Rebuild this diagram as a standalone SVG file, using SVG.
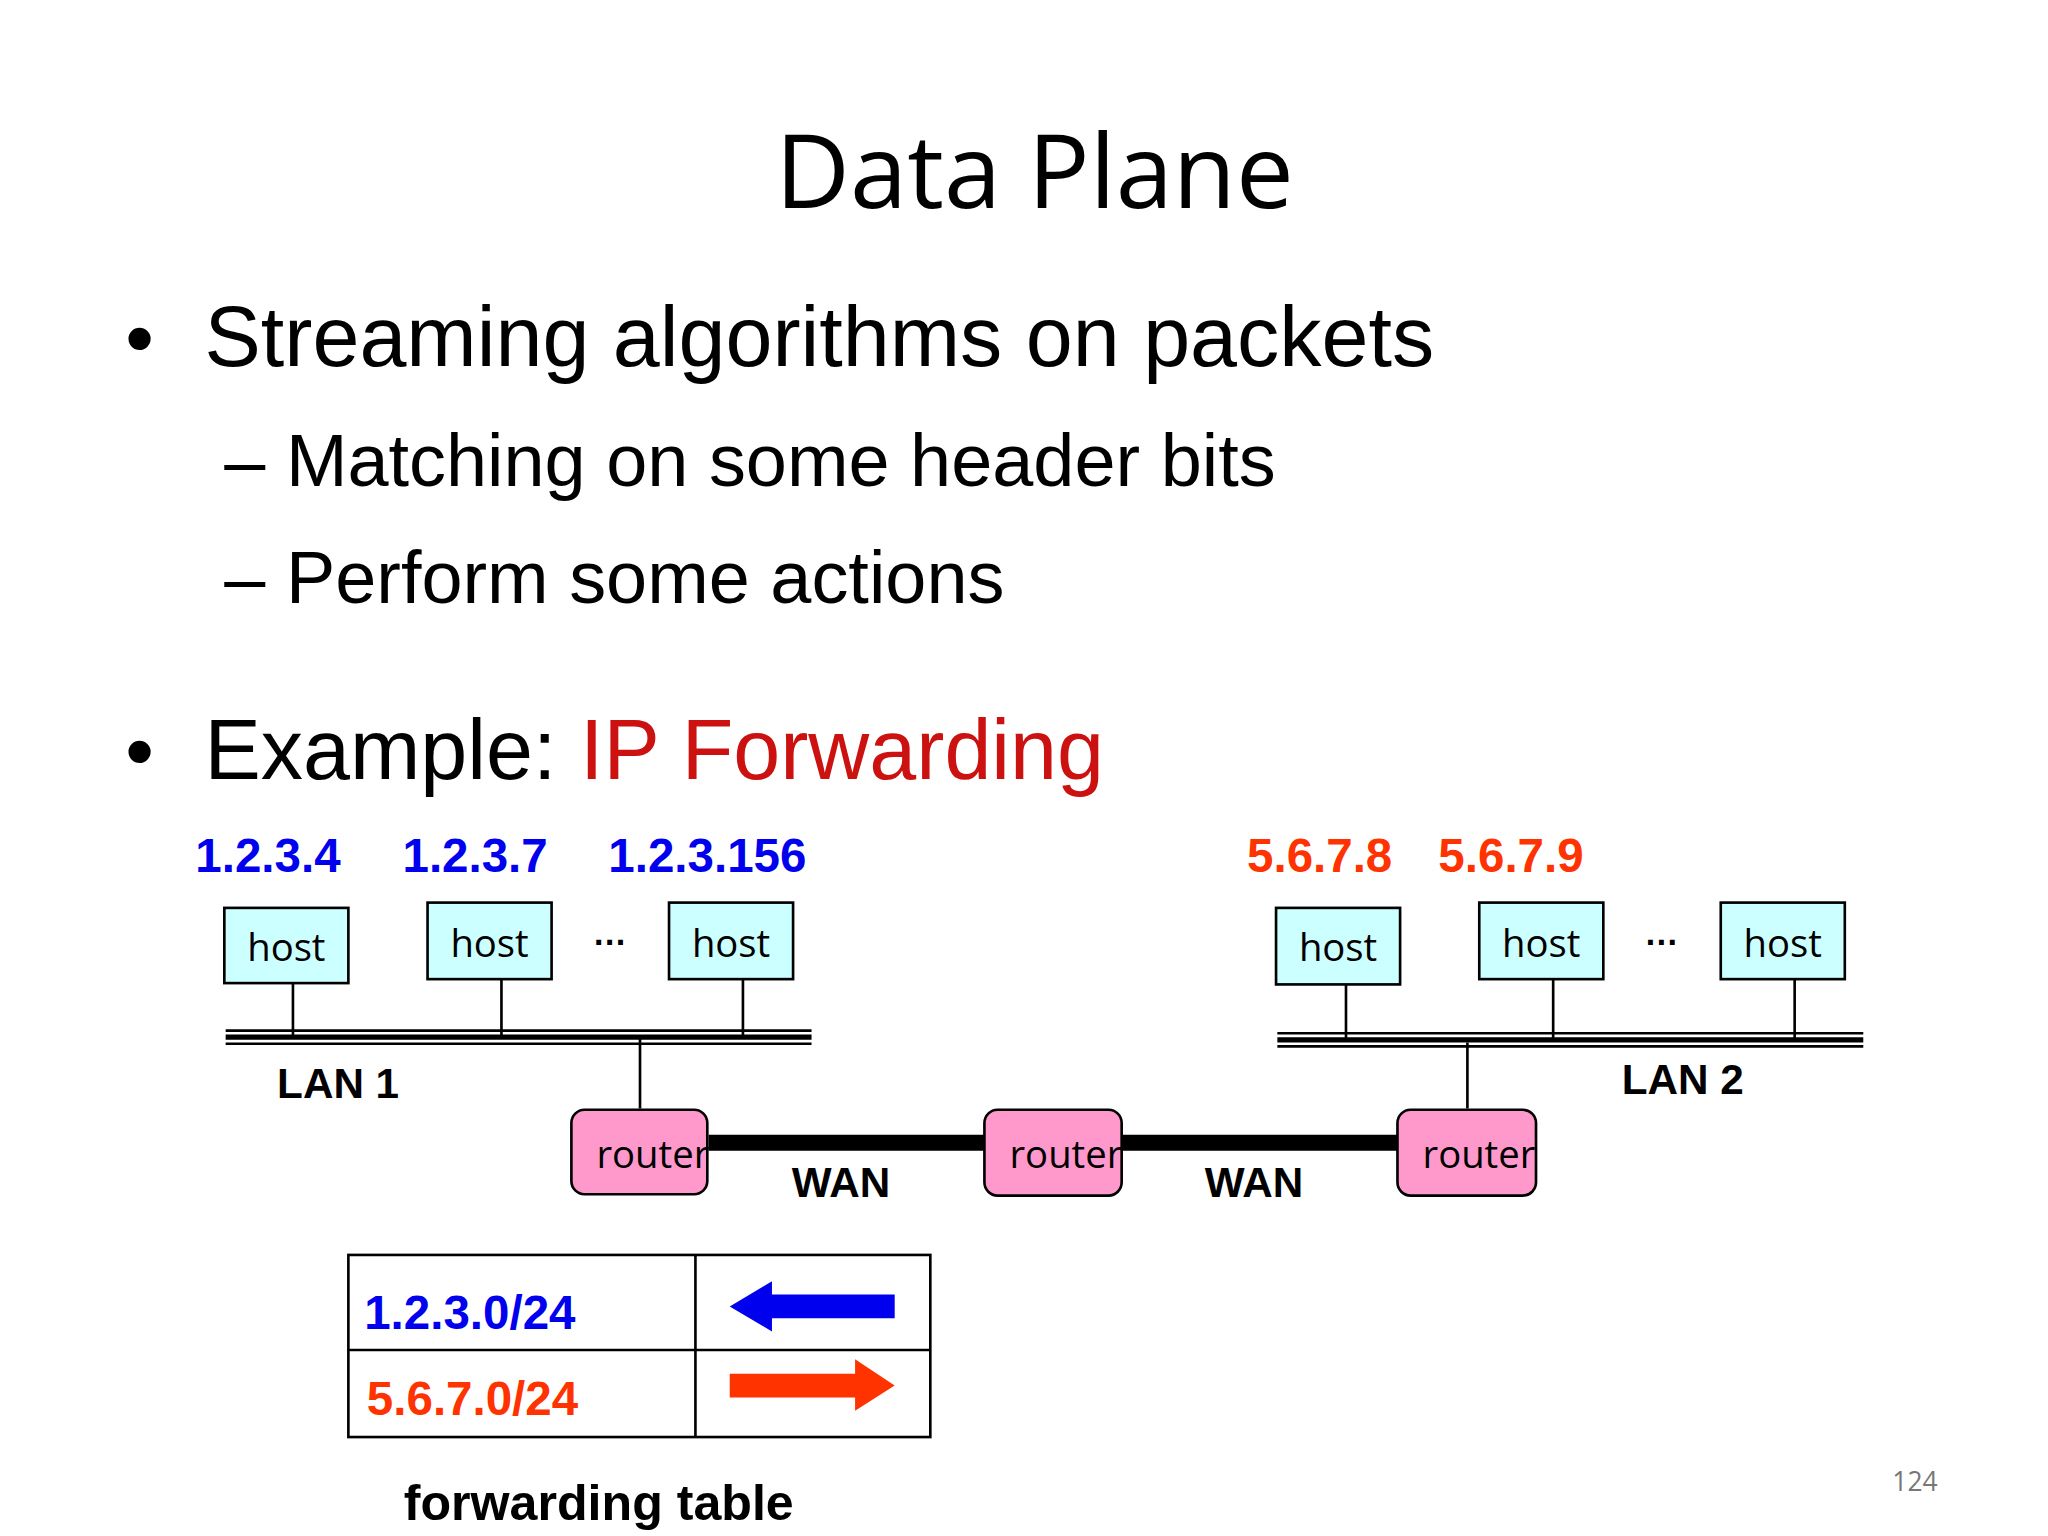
<svg xmlns="http://www.w3.org/2000/svg" width="2048" height="1536" viewBox="0 0 2048 1536">
<style>
.a{font-family:"Liberation Sans",Arial,sans-serif}
.c{font-family:"Open Sans","Noto Sans",sans-serif}
.b{font-family:"Liberation Sans",Arial,sans-serif;font-weight:bold}
.host{fill:#CCFFFF;stroke:#000;stroke-width:2}
.rt{fill:#FF99CC;stroke:#000;stroke-width:2}
.ln{stroke:#000;stroke-width:2;fill:none}
</style>
<rect width="2048" height="1536" fill="#fff"/>
<g transform="scale(1.3196)">
<text class="c" x="784" y="158" font-size="78" text-anchor="middle">Data Plane</text>
<text class="a" x="95" y="277" font-size="62">•</text>
<text class="a" x="155" y="277" font-size="64">Streaming algorithms on packets</text>
<text class="a" x="170" y="368" font-size="56">– Matching on some header bits</text>
<text class="a" x="170" y="457" font-size="56">– Perform some actions</text>
<text class="a" x="95" y="590" font-size="62">•</text>
<text class="a" x="155" y="590" font-size="64">Example: <tspan fill="#CC1111">IP Forwarding</tspan></text>
<g class="b" font-size="36" fill="#0000EE">
<text x="148" y="661">1.2.3.4</text><text x="305" y="661">1.2.3.7</text><text x="461" y="661">1.2.3.156</text>
</g>
<g class="b" font-size="36" fill="#FF3300">
<text x="945" y="661">5.6.7.8</text><text x="1090" y="661">5.6.7.9</text>
</g>
<g id="connectors">
<path class="ln" d="M171 781H615M171 791H615M222 745V786M380 742V786M563 742V786M485 786V840M968 783H1412M968 793H1412M1020 746V788M1177 742V788M1360 742V788M1112 790V840"/>
<path stroke="#000" stroke-width="4" d="M171 786H615M968 788H1412"/>
<path stroke="#000" stroke-width="12" d="M537 866H746M850 866H1059"/>
</g>
<g id="h1"><rect class="host" x="170" y="688" width="94" height="57"/><text class="c" x="217" y="728" font-size="29" text-anchor="middle">host</text></g>
<g id="h2"><rect class="host" x="324" y="684" width="94" height="58"/><text class="c" x="371" y="725" font-size="29" text-anchor="middle">host</text></g>
<g id="h3"><rect class="host" x="507" y="684" width="94" height="58"/><text class="c" x="554" y="725" font-size="29" text-anchor="middle">host</text></g>
<g id="h4"><rect class="host" x="967" y="688" width="94" height="58"/><text class="c" x="1014" y="728" font-size="29" text-anchor="middle">host</text></g>
<g id="h5"><rect class="host" x="1121" y="684" width="94" height="58"/><text class="c" x="1168" y="725" font-size="29" text-anchor="middle">host</text></g>
<g id="h6"><rect class="host" x="1304" y="684" width="94" height="58"/><text class="c" x="1351" y="725" font-size="29" text-anchor="middle">host</text></g>
<text class="b" x="462" y="716" font-size="26" text-anchor="middle">…</text>
<text class="b" x="1259" y="716" font-size="26" text-anchor="middle">…</text>
<text class="b" x="210" y="832" font-size="32">LAN 1</text>
<text class="b" x="1229" y="829" font-size="32">LAN 2</text>
<g id="r1"><rect class="rt" x="433" y="841" width="103" height="64" rx="10" stroke-width="6"/><text class="c" x="452" y="885" font-size="29">router</text></g>
<g id="r2"><rect class="rt" x="746" y="841" width="104" height="65" rx="10"/><text class="c" x="765" y="885" font-size="29">router</text></g>
<g id="r3"><rect class="rt" x="1059" y="841" width="105" height="65" rx="10"/><text class="c" x="1078" y="885" font-size="29">router</text></g>
<text class="b" x="600" y="907" font-size="32">WAN</text>
<text class="b" x="913" y="907" font-size="32">WAN</text>
<g id="table">
<rect x="264" y="951" width="441" height="138" fill="none" stroke="#000" stroke-width="2"/>
<path class="ln" d="M264 1023H705M527 951V1089"/>
<text class="b" x="276" y="1007" font-size="36" fill="#0000EE">1.2.3.0/24</text>
<text class="b" x="278" y="1072" font-size="36" fill="#FF3300">5.6.7.0/24</text>
<polygon fill="#0000EE" points="553,990 585,971 585,981 678,981 678,999 585,999 585,1009"/>
<polygon fill="#FF3300" points="678,1050 648,1030 648,1041 553,1041 553,1059 648,1059 648,1069"/>
</g>
<text class="b" x="306" y="1152" font-size="38">forwarding table</text>
<text class="c" x="1434" y="1130" font-size="20" fill="#777">124</text>
</g>
</svg>
